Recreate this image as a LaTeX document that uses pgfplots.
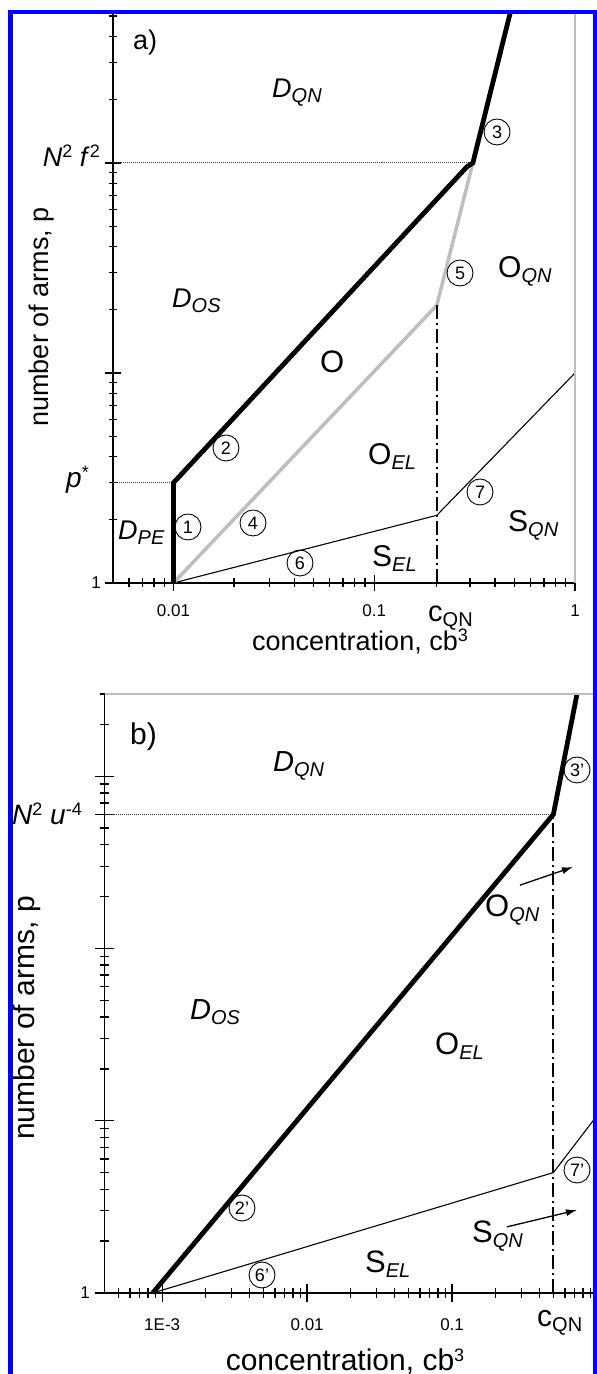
\documentclass[border=0pt]{standalone}
\usepackage{pgfplots}
\pgfplotsset{compat=1.18}
\usepackage{fontspec}
\setmainfont{Liberation Sans}
\usetikzlibrary{arrows.meta}
\definecolor{lgray}{RGB}{190,190,190}
\definecolor{bblue}{RGB}{0,0,255}
\newcommand{\fs}[1]{\fontsize{#1bp}{#1bp}\selectfont}
\newcommand{\regI}[3]{{\fs{#1}\itshape #2\raisebox{-5bp}{\fs{20}#3}}}
\newcommand{\regU}[3]{{\fs{#1}#2\raisebox{-5bp}{\fs{20}\itshape #3}}}
\newcommand{\sups}[1]{\raisebox{9bp}{\fs{18}#1}}
\tikzset{circ/.style={circle, draw, line width=0.9bp, inner sep=0pt, minimum size=26bp, font=\fs{18}}}
\pgfplotsset{
  every axis/.append style={
    scale only axis, xmode=log, ymode=log,
    axis x line*=bottom, axis y line*=left,
    axis line style={line width=1.5bp, black},
    tick style={line width=1.3bp, black},
    tick align=center,
    clip mode=individual,
    tick label style={font=\fs{17}},
    xticklabel style={anchor=base, yshift=-26bp, inner sep=0pt},
    yticklabel style={anchor=east, xshift=-4bp, inner sep=0pt},
  }
}
\begin{document}
\begin{tikzpicture}[x=1bp,y=1bp]
\useasboundingbox (0,0) rectangle (597,1374);
\fill[white] (0,0) rectangle (597,1374);

% ---------------- panel a ----------------
\begin{axis}[at={(113bp,791bp)}, anchor=south west,
  width=462bp, height=570.4bp,
  major tick length=16bp, minor tick length=9bp,
  xmin=0.005, xmax=1, ymin=1, ymax=520,
  xtick={0.01,0.1,1}, xticklabels={0.01,0.1,1},
  minor xtick={0.006,0.007,0.008,0.009,0.02,0.03,0.04,0.05,0.06,0.07,0.08,0.09,0.3,0.4,0.5,0.6,0.7,0.8,0.9},
  extra x ticks={0.205}, extra x tick labels={},
  extra x tick style={major tick length=9bp},
  ytick={1,10,100}, yticklabels={1,{},{}},
  minor ytick={2,3,4,5,6,7,8,9,20,30,40,50,60,70,80,90,200,300,400,500},
]
\addplot[black, line width=1.1bp] coordinates {(0.01,1) (0.205,2.1) (1,10)};
\addplot[lgray, line width=3.5bp] coordinates {(0.01,1) (0.205,21) (0.31,100)};
\addplot[black, line width=2bp, dash pattern=on 14bp off 4bp on 2bp off 4bp] coordinates {(0.205,1) (0.205,21)};
\addplot[black!75, densely dotted, line width=1bp] coordinates {(0.005,100) (0.31,100)};
\addplot[black!75, densely dotted, line width=1bp] coordinates {(0.005,3) (0.01,3)};
\addplot[black, line width=4.8bp] coordinates {(0.01,1) (0.01,3) (0.29,96) (0.31,100) (0.476,520)};
\end{axis}
\draw[lgray, line width=1.5bp] (575,791) -- (575,1362);

% ---------------- panel b ----------------
\begin{axis}[at={(104.5bp,81bp)}, anchor=south west,
  width=492.5bp, height=599bp,
  xmin=0.0004, xmax=1, ymin=1, ymax=3000,
  major tick length=19bp, minor tick length=10bp,
  xtick={0.001,0.01,0.1,1}, xticklabels={1E-3,0.01,0.1,1},
  xticklabel style={yshift=-2bp},
  minor xtick={0.0005,0.0006,0.0007,0.0008,0.0009,0.002,0.003,0.004,0.005,0.006,0.007,0.008,0.009,0.02,0.03,0.04,0.05,0.06,0.07,0.08,0.09,0.2,0.3,0.4,0.6,0.7,0.8,0.9},
  extra x ticks={0.5}, extra x tick labels={},
  extra x tick style={major tick length=10bp},
  ytick={1,10,100,1000}, yticklabels={1,{},{},{}},
  yticklabel style={xshift=-1bp},
  minor ytick={2,3,4,5,6,7,8,9,20,30,40,50,60,70,80,90,200,300,400,500,700,800,900,2000,3000},
  extra y ticks={600}, extra y tick labels={},
]
\addplot[black, line width=1.1bp] coordinates {(0.00086,1) (0.5,5) (0.94,10) (1,10.7)};
\addplot[black, line width=2bp, dash pattern=on 14bp off 4bp on 2bp off 4bp] coordinates {(0.5,1) (0.5,600)};
\addplot[black!75, densely dotted, line width=1bp] coordinates {(0.0004,600) (0.5,600)};
\addplot[black, line width=4.8bp] coordinates {(0.00086,1) (0.5,600) (0.728,3000)};
\draw[-{Latex[length=11bp,width=7bp]}, line width=1.3bp] (axis cs:0.294,233) -- (axis cs:0.682,297);
\draw[-{Latex[length=11bp,width=7bp]}, line width=1.3bp] (axis cs:0.239,2.42) -- (axis cs:0.727,3.03);
\end{axis}
\draw[lgray, line width=1.5bp] (104.5,680) -- (597,680);

% ---------------- text, panel a ----------------
\node[anchor=base west, inner sep=0pt] at (133,1324) {\fs{27}a)};
\node[anchor=base west, inner sep=0pt] at (272,1276) {\regI{27}{D}{QN}};
\node[anchor=base west, inner sep=0pt] at (172,1066) {\regI{27}{D}{OS}};
\node[anchor=base west, inner sep=0pt] at (320,1001) {\fs{31}O};
\node[anchor=base west, inner sep=0pt] at (368,909) {\regU{30}{O}{EL}};
\node[anchor=base west, inner sep=0pt] at (498,1096) {\regU{30}{O}{QN}};
\node[anchor=base west, inner sep=0pt] at (372,807) {\regU{30}{S}{EL}};
\node[anchor=base west, inner sep=0pt] at (508,842) {\regU{30}{S}{QN}};
\node[anchor=base west, inner sep=0pt] at (118,834) {\regI{27}{D}{PE}};
\node[anchor=base east, inner sep=0pt] at (100,1207) {\fs{27}\textit{N}\sups{2} \textit{f}\sups{2}};
\node[anchor=base east, inner sep=0pt] at (89,886) {\fs{28}\textit{p}\sups{*}};
\node[anchor=base west, inner sep=0pt] at (428,752) {\fs{29}c\raisebox{-5bp}{\fs{20}QN}};
\node[circ] at (188,847) {1};
\node[circ] at (226,926) {2};
\node[circ] at (497,1242) {3};
\node[circ] at (253,851) {4};
\node[circ] at (460,1101) {5};
\node[circ] at (300,811) {6};
\node[circ] at (480,882) {7};
\node[rotate=90, inner sep=0pt] at (42,1057) {\fs{27}number of arms, p};
\node[anchor=base, inner sep=0pt] at (360,723) {\fs{27}concentration, cb\sups{3}};

% ---------------- text, panel b ----------------
\node[anchor=base west, inner sep=0pt] at (130,629) {\fs{30}b)};
\node[anchor=base west, inner sep=0pt] at (273,602) {\regI{29}{D}{QN}};
\node[anchor=base east, inner sep=0pt] at (82,549) {\fs{28}\textit{N}\sups{2} \textit{u}\sups{-4}};
\node[anchor=base west, inner sep=0pt] at (190,354) {\regI{29}{D}{OS}};
\node[anchor=base west, inner sep=0pt] at (485,457) {\regU{31}{O}{QN}};
\node[anchor=base west, inner sep=0pt] at (435,319) {\regU{31}{O}{EL}};
\node[anchor=base west, inner sep=0pt] at (472,131) {\regU{31}{S}{QN}};
\node[anchor=base west, inner sep=0pt] at (365,101) {\regU{31}{S}{EL}};
\node[anchor=base west, inner sep=0pt] at (537,47) {\fs{30}c\raisebox{-5bp}{\fs{20}QN}};
\node[circ] at (242,166) {2'};
\node[circ] at (262,99) {6'};
\node[circ] at (577,604) {3'};
\node[circ] at (577,204) {7'};
\node[rotate=90, inner sep=0pt] at (27,356) {\fs{30}number of arms, p};
\node[anchor=base, inner sep=0pt] at (345,3) {\fs{30}concentration, cb\sups{3}};

% ---------------- blue frame ----------------
\fill[bblue] (8,0) rectangle (12.5,1364);
\fill[bblue] (8,1359.5) rectangle (597,1364);
\fill[bblue] (593,0) rectangle (597,1364);
\end{tikzpicture}
\end{document}
